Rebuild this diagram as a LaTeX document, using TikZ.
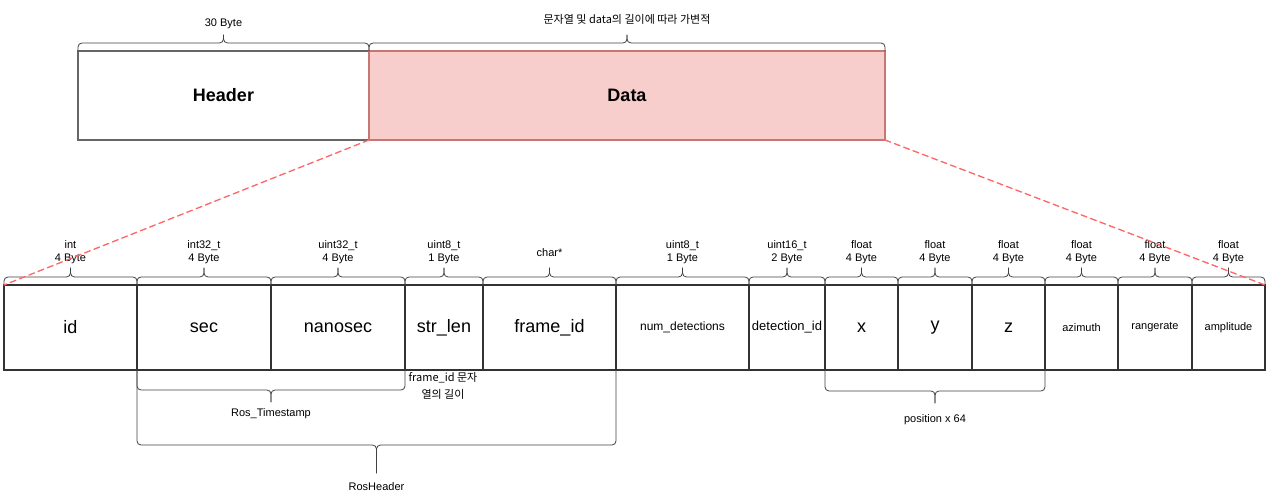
\documentclass[tikz,border=0pt]{standalone}
\usepackage{fontspec}
\setmainfont{Liberation Sans}
\newfontfamily\kr{Noto Sans CJK KR}
\definecolor{datafill}{HTML}{F8CECC}
\definecolor{dataline}{HTML}{B85450}
\definecolor{dashred}{HTML}{FF6666}
\newcommand{\Curly}[5]{% left x, right x, base y, bar y, tip y
\draw[brace] (#1,#3) -- (#1,#4) -- ({(#1+#2)/2},#4) -- ({(#1+#2)/2},#5);
\draw[brace] (#2,#3) -- (#2,#4) -- ({(#1+#2)/2},#4) -- ({(#1+#2)/2},#5);
}

\begin{document}
\begin{tikzpicture}[x=0.75pt, y=-0.75pt, line cap=round,
  cell/.style={draw=black!80, line width=0.8pt, inner sep=0pt, outer sep=0pt, minimum height=63.75pt},
  lbl/.style={align=center, font=\fontsize{8.25}{9.75}\selectfont, inner sep=0pt},
  brace/.style={draw=black!75, line width=0.6pt, rounded corners=3pt},
  zoomline/.style={draw=dashred, line width=1pt, dash pattern=on 4.5pt off 3pt}]
\useasboundingbox (0,0) rectangle (1278,502);

\node [cell, draw=black!60, minimum width=218.25pt, minimum height=66.75pt,
  font=\fontsize{13.5}{16}\selectfont\bfseries] (header) at (223.5,95.5) {Header};
\node [cell, draw=dataline!80!white, fill=datafill, minimum width=387pt, minimum height=66.75pt,
  font=\fontsize{13.5}{16}\selectfont\bfseries] (data) at (627,95.5) {Data};
\Curly{78}{369}{51}{43}{35}
\Curly{369}{885}{51}{43}{35}
\node [lbl] (header-t) at (223.5,24) {30 Byte};
\node [lbl, font=\kr\fontsize{8.25}{9.75}\selectfont] (data-t) at (627,19) {문자열 및 data의 길이에 따라 가변적};

\foreach \l/\r/\nm/\txt/\fs/\typ in {
  4/137/id/id/13.5/{int\\4 Byte},
  137/271/sec/sec/13.5/{int32\_t\\4 Byte},
  271/405/nanosec/nanosec/13.5/{uint32\_t\\4 Byte},
  405/483/strlen/str\_len/13.5/{uint8\_t\\1 Byte},
  483/616/frameid/frame\_id/13.5/{char*},
  616/749/numdet/num\_detections/9/{uint8\_t\\1 Byte},
  749/825/detid/detection\_id/9.75/{uint16\_t\\2 Byte},
  825/898/px/x/13.5/{float\\4 Byte},
  898/972/py/y/13.5/{float\\4 Byte},
  972/1045/pz/z/13.5/{float\\4 Byte},
  1045/1118/azimuth/azimuth/8.25/{float\\4 Byte},
  1118/1192/rangerate/rangerate/8.25/{float\\4 Byte},
  1192/1265/amplitude/amplitude/8.25/{float\\4 Byte}}
{
  \node [cell, minimum width={(\r-\l)*0.75pt}, font=\fontsize{\fs}{\fs}\selectfont] (\nm) at ({(\l+\r)/2},327.5) {\txt};
  \node [lbl] (\nm-t) at ({(\l+\r)/2},252.5) {\typ};
  \Curly{\l}{\r}{285}{277}{268}
}

\draw [zoomline] (data.south west) -- (id.north west);
\draw [zoomline] (data.south east) -- (amplitude.north east);

\Curly{137}{405}{370}{390}{402}
\node [lbl] (stamp) at (271,414) {Ros\_Timestamp};
\Curly{137}{616}{370}{445}{473}
\node [lbl] (rosheader) at (376.5,487) {RosHeader};
\Curly{825}{1045}{370}{391}{403}
\node [lbl] (pos) at (935,420) {position x 64};
\node [lbl, font=\kr\fontsize{8.25}{13}\selectfont] (strlen-b) at (443,386) {frame\_id 문자\\열의 길이};
\end{tikzpicture}
\end{document}
